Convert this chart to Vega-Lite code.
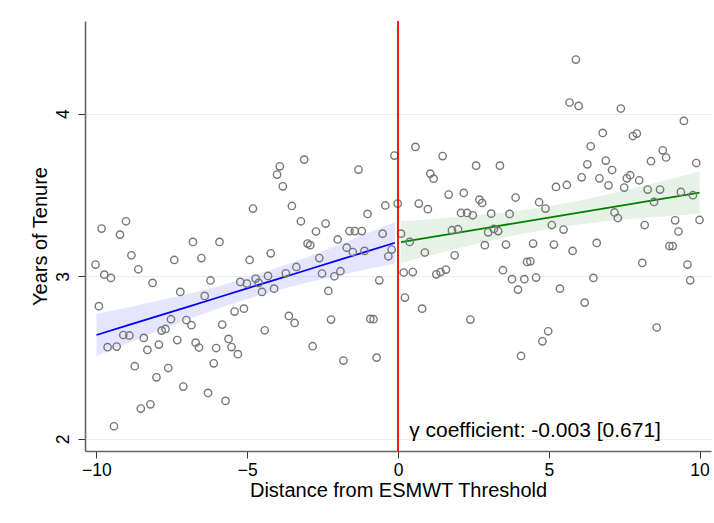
{
  "$schema": "https://vega.github.io/schema/vega-lite/v6.json",
  "autosize": {"type": "none"},
  "width": 626,
  "height": 430,
  "padding": {"left": 85, "top": 21, "right": 3, "bottom": 72},
  "background": "white",
  "config": {
    "view": {"stroke": null},
    "font": "Liberation Sans",
    "axis": {
      "labelFont": "Liberation Sans",
      "titleFont": "Liberation Sans",
      "labelFontSize": 17.5,
      "titleFontSize": 20,
      "titleFontWeight": "normal",
      "labelColor": "#000000",
      "titleColor": "#000000",
      "domainColor": "#666666",
      "domainWidth": 1.6,
      "tickColor": "#333333",
      "tickWidth": 1,
      "tickSize": 7
    }
  },
  "datasets": {
    "pts": [
      {"x": -9.83, "y": 3.293}, {"x": -9.02, "y": 3.338}, {"x": -9.22, "y": 3.256}, {"x": -10.03, "y": 3.072},
      {"x": -8.84, "y": 3.129}, {"x": -6.80, "y": 3.211}, {"x": -9.74, "y": 3.010}, {"x": -9.52, "y": 2.990},
      {"x": -8.61, "y": 3.043}, {"x": -7.42, "y": 3.100}, {"x": -8.14, "y": 2.959}, {"x": -9.92, "y": 2.816},
      {"x": -7.22, "y": 2.904}, {"x": -7.53, "y": 2.736}, {"x": -7.02, "y": 2.731}, {"x": -6.85, "y": 2.699},
      {"x": -9.11, "y": 2.639}, {"x": -8.91, "y": 2.636}, {"x": -8.43, "y": 2.621}, {"x": -7.84, "y": 2.666},
      {"x": -7.71, "y": 2.676}, {"x": -9.63, "y": 2.564}, {"x": -9.33, "y": 2.568}, {"x": -8.31, "y": 2.547},
      {"x": -7.93, "y": 2.580}, {"x": -7.32, "y": 2.608}, {"x": -6.71, "y": 2.592}, {"x": -8.73, "y": 2.447},
      {"x": -7.62, "y": 2.436}, {"x": -8.01, "y": 2.379}, {"x": -7.12, "y": 2.322}, {"x": -8.53, "y": 2.187},
      {"x": -8.21, "y": 2.213}, {"x": -9.42, "y": 2.078}, {"x": -4.81, "y": 3.416}, {"x": -3.92, "y": 3.676},
      {"x": -4.01, "y": 3.625}, {"x": -3.82, "y": 3.553}, {"x": -3.52, "y": 3.432}, {"x": -3.11, "y": 3.717},
      {"x": -3.22, "y": 3.338}, {"x": -5.92, "y": 3.211}, {"x": -6.52, "y": 3.112}, {"x": -4.92, "y": 3.100},
      {"x": -4.22, "y": 3.141}, {"x": -6.22, "y": 2.974}, {"x": -5.23, "y": 2.965}, {"x": -5.01, "y": 2.955},
      {"x": -4.72, "y": 2.986}, {"x": -4.62, "y": 2.959}, {"x": -4.31, "y": 3.002}, {"x": -3.72, "y": 3.018},
      {"x": -3.37, "y": 3.057}, {"x": -4.51, "y": 2.904}, {"x": -4.11, "y": 2.924}, {"x": -6.41, "y": 2.879},
      {"x": -5.42, "y": 2.783}, {"x": -5.11, "y": 2.801}, {"x": -5.83, "y": 2.703}, {"x": -3.62, "y": 2.756},
      {"x": -3.43, "y": 2.713}, {"x": -4.42, "y": 2.668}, {"x": -6.60, "y": 2.562}, {"x": -6.03, "y": 2.559},
      {"x": -5.62, "y": 2.615}, {"x": -5.52, "y": 2.565}, {"x": -5.31, "y": 2.521}, {"x": -6.11, "y": 2.465},
      {"x": -6.30, "y": 2.283}, {"x": -5.72, "y": 2.234}, {"x": -1.31, "y": 3.656}, {"x": -0.12, "y": 3.742},
      {"x": -2.40, "y": 3.324}, {"x": -2.72, "y": 3.275}, {"x": -1.01, "y": 3.383}, {"x": -0.42, "y": 3.435},
      {"x": -1.61, "y": 3.278}, {"x": -1.43, "y": 3.278}, {"x": -1.20, "y": 3.278}, {"x": -0.51, "y": 3.262},
      {"x": -2.00, "y": 3.226}, {"x": -3.00, "y": 3.201}, {"x": -2.91, "y": 3.191}, {"x": -2.61, "y": 3.112},
      {"x": -1.70, "y": 3.176}, {"x": -1.50, "y": 3.149}, {"x": -1.11, "y": 3.156}, {"x": -0.21, "y": 3.164},
      {"x": -0.32, "y": 3.123}, {"x": -2.52, "y": 3.017}, {"x": -2.11, "y": 3.000}, {"x": -1.91, "y": 3.031},
      {"x": -0.62, "y": 2.975}, {"x": -2.31, "y": 2.910}, {"x": -2.22, "y": 2.734}, {"x": -0.92, "y": 2.738},
      {"x": -0.81, "y": 2.736}, {"x": -2.83, "y": 2.570}, {"x": -1.81, "y": 2.482}, {"x": -0.71, "y": 2.500},
      {"x": -0.01, "y": 3.447}, {"x": 0.10, "y": 3.262},
      {"x": 0.19, "y": 3.023}, {"x": 0.23, "y": 2.869}, {"x": 0.39, "y": 3.211}, {"x": 0.58, "y": 3.795},
      {"x": 1.48, "y": 3.739}, {"x": 2.59, "y": 3.680}, {"x": 3.38, "y": 3.680}, {"x": 1.07, "y": 3.631},
      {"x": 1.18, "y": 3.600}, {"x": 1.68, "y": 3.502}, {"x": 2.18, "y": 3.512}, {"x": 0.69, "y": 3.447},
      {"x": 0.99, "y": 3.412}, {"x": 2.70, "y": 3.471}, {"x": 2.79, "y": 3.451}, {"x": 3.90, "y": 3.484},
      {"x": 2.09, "y": 3.389}, {"x": 2.29, "y": 3.389}, {"x": 2.48, "y": 3.375}, {"x": 3.09, "y": 3.385},
      {"x": 3.70, "y": 3.383}, {"x": 4.68, "y": 3.455}, {"x": 4.89, "y": 3.416}, {"x": 5.24, "y": 3.549},
      {"x": 5.10, "y": 3.315}, {"x": 1.79, "y": 3.283}, {"x": 1.99, "y": 3.289}, {"x": 2.99, "y": 3.270},
      {"x": 3.18, "y": 3.291}, {"x": 3.32, "y": 3.278}, {"x": 0.89, "y": 3.146}, {"x": 1.88, "y": 3.129},
      {"x": 2.88, "y": 3.191}, {"x": 3.58, "y": 3.195}, {"x": 4.48, "y": 3.201}, {"x": 5.17, "y": 3.195},
      {"x": 0.49, "y": 3.026}, {"x": 1.27, "y": 3.012}, {"x": 1.41, "y": 3.026}, {"x": 1.59, "y": 3.041},
      {"x": 3.48, "y": 3.037}, {"x": 3.78, "y": 2.982}, {"x": 4.19, "y": 2.982}, {"x": 4.58, "y": 2.992},
      {"x": 4.28, "y": 3.088}, {"x": 4.39, "y": 3.092}, {"x": 3.98, "y": 2.918}, {"x": 5.37, "y": 2.924},
      {"x": 0.80, "y": 2.801}, {"x": 2.40, "y": 2.734}, {"x": 4.98, "y": 2.662}, {"x": 4.79, "y": 2.600},
      {"x": 4.08, "y": 2.510}, {"x": 5.90, "y": 4.332}, {"x": 5.69, "y": 4.068}, {"x": 5.99, "y": 4.047},
      {"x": 7.39, "y": 4.031}, {"x": 9.48, "y": 3.955}, {"x": 6.79, "y": 3.881}, {"x": 7.79, "y": 3.862},
      {"x": 7.92, "y": 3.877}, {"x": 6.39, "y": 3.799}, {"x": 8.78, "y": 3.774}, {"x": 8.89, "y": 3.730},
      {"x": 6.28, "y": 3.688}, {"x": 6.89, "y": 3.711}, {"x": 7.10, "y": 3.653}, {"x": 8.39, "y": 3.707},
      {"x": 9.89, "y": 3.696}, {"x": 6.09, "y": 3.608}, {"x": 6.68, "y": 3.602}, {"x": 6.98, "y": 3.559},
      {"x": 7.59, "y": 3.602}, {"x": 7.70, "y": 3.621}, {"x": 8.00, "y": 3.590}, {"x": 7.50, "y": 3.545},
      {"x": 5.60, "y": 3.561}, {"x": 8.28, "y": 3.533}, {"x": 8.69, "y": 3.533}, {"x": 9.38, "y": 3.518},
      {"x": 9.78, "y": 3.498}, {"x": 8.49, "y": 3.457}, {"x": 7.18, "y": 3.392}, {"x": 7.29, "y": 3.358},
      {"x": 8.18, "y": 3.315}, {"x": 9.19, "y": 3.344}, {"x": 9.30, "y": 3.275}, {"x": 10.00, "y": 3.346},
      {"x": 5.49, "y": 3.287}, {"x": 6.59, "y": 3.205}, {"x": 5.79, "y": 3.156}, {"x": 8.10, "y": 3.082},
      {"x": 9.00, "y": 3.186}, {"x": 9.11, "y": 3.186}, {"x": 9.60, "y": 3.072}, {"x": 9.69, "y": 2.975},
      {"x": 6.48, "y": 2.990}, {"x": 6.19, "y": 2.838}, {"x": 8.58, "y": 2.685}
    ],
    "fit": [
      {"side": "left", "x": -10, "fit": 2.639, "lo": 2.509, "hi": 2.769},
      {"side": "left", "x": -9, "fit": 2.696, "lo": 2.585, "hi": 2.807},
      {"side": "left", "x": -8, "fit": 2.754, "lo": 2.660, "hi": 2.848},
      {"side": "left", "x": -7, "fit": 2.811, "lo": 2.732, "hi": 2.890},
      {"side": "left", "x": -6, "fit": 2.868, "lo": 2.799, "hi": 2.937},
      {"side": "left", "x": -5, "fit": 2.926, "lo": 2.861, "hi": 2.991},
      {"side": "left", "x": -4, "fit": 2.983, "lo": 2.914, "hi": 3.052},
      {"side": "left", "x": -3, "fit": 3.040, "lo": 2.961, "hi": 3.119},
      {"side": "left", "x": -2, "fit": 3.097, "lo": 3.003, "hi": 3.191},
      {"side": "left", "x": -1, "fit": 3.155, "lo": 3.044, "hi": 3.266},
      {"side": "left", "x": -0.1, "fit": 3.206, "lo": 3.078, "hi": 3.334},
      {"side": "right", "x": 0.1, "fit": 3.210, "lo": 3.082, "hi": 3.338},
      {"side": "right", "x": 1, "fit": 3.238, "lo": 3.125, "hi": 3.351},
      {"side": "right", "x": 2, "fit": 3.268, "lo": 3.172, "hi": 3.364},
      {"side": "right", "x": 3, "fit": 3.299, "lo": 3.216, "hi": 3.382},
      {"side": "right", "x": 4, "fit": 3.330, "lo": 3.257, "hi": 3.403},
      {"side": "right", "x": 5, "fit": 3.361, "lo": 3.291, "hi": 3.431},
      {"side": "right", "x": 6, "fit": 3.391, "lo": 3.318, "hi": 3.464},
      {"side": "right", "x": 7, "fit": 3.422, "lo": 3.339, "hi": 3.505},
      {"side": "right", "x": 8, "fit": 3.453, "lo": 3.357, "hi": 3.549},
      {"side": "right", "x": 9, "fit": 3.483, "lo": 3.370, "hi": 3.596},
      {"side": "right", "x": 10, "fit": 3.514, "lo": 3.384, "hi": 3.644}
    ],
    "note": [
      {"label": "γ coefficient: -0.003 [0.671]"}
    ]
  },
  "layer": [
    {
      "data": {"name": "fit"},
      "mark": {"type": "area", "opacity": 0.1},
      "encoding": {
        "x": {"field": "x", "type": "quantitative", "scale": {"domain": [-10.38, 10.38], "nice": false, "zero": false},
              "axis": {"values": [-10, -5, 0, 5, 10], "grid": false, "title": "Distance from ESMWT Threshold", "labelPadding": 3, "titlePadding": 2}},
        "y": {"field": "lo", "type": "quantitative", "scale": {"domain": [1.926, 4.569], "nice": false, "zero": false},
              "axis": {"values": [2, 3, 4], "format": "d", "grid": true, "gridColor": "#e6eef0", "gridWidth": 1, "labelAngle": -90, "labelAlign": "center", "labelBaseline": "bottom", "labelPadding": 6, "title": "Years of Tenure", "titlePadding": 4}},
        "y2": {"field": "hi"},
        "color": {"field": "side", "type": "nominal", "scale": {"domain": ["left", "right"], "range": ["#0000ff", "#008000"]}, "legend": null}
      }
    },
    {
      "data": {"name": "fit"},
      "mark": {"type": "line", "strokeWidth": 1.8},
      "encoding": {
        "x": {"field": "x", "type": "quantitative"},
        "y": {"field": "fit", "type": "quantitative"},
        "color": {"field": "side", "type": "nominal", "legend": null}
      }
    },
    {
      "data": {"name": "pts"},
      "mark": {"type": "point", "shape": "circle", "filled": false, "stroke": "#777777", "strokeWidth": 1.4, "size": 54, "opacity": 1},
      "encoding": {
        "x": {"field": "x", "type": "quantitative"},
        "y": {"field": "y", "type": "quantitative"}
      }
    },
    {
      "data": {"name": "note"},
      "mark": {"type": "rule", "color": "#ff0000", "strokeWidth": 1.8},
      "encoding": {"x": {"datum": 0}}
    },
    {
      "data": {"name": "note"},
      "mark": {"type": "text", "align": "left", "baseline": "alphabetic", "fontSize": 21, "font": "Liberation Sans", "color": "#000000"},
      "encoding": {"x": {"datum": 0.37}, "y": {"datum": 2.012}, "text": {"field": "label"}}
    }
  ]
}
